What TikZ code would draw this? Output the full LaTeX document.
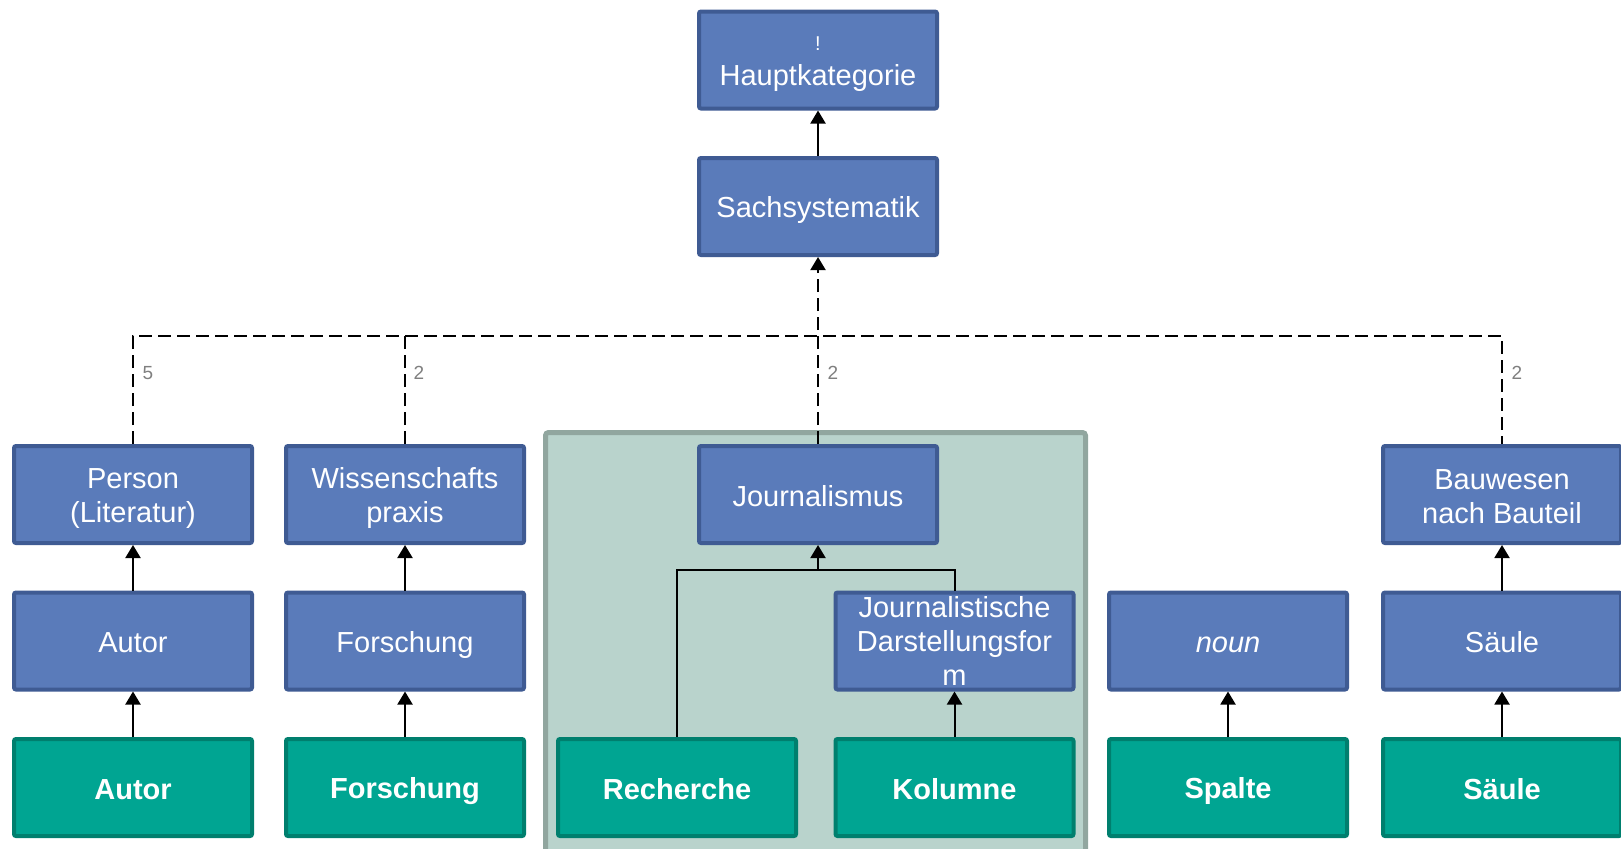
\documentclass[tikz,border=0pt]{standalone}
\usepackage{fontspec}
\setmainfont{Liberation Sans}
\usetikzlibrary{arrows.meta}
\definecolor{bfill}{HTML}{5A7BBA}
\definecolor{bdraw}{HTML}{3F5B93}
\definecolor{gfill}{HTML}{00A592}
\definecolor{gdraw}{HTML}{007F6E}
\definecolor{cfill}{HTML}{B9D3CC}
\definecolor{cdraw}{HTML}{91A69F}
\definecolor{lblgray}{HTML}{7F7F7F}
\newcommand\ls{\rule[-2.7pt]{0pt}{17pt}}
\begin{document}
\begin{tikzpicture}[x=0.5pt,y=-0.5pt,
  box/.style={rectangle, rounded corners=1pt, line width=2pt, minimum width=119pt,
    minimum height=48.5pt, inner sep=0pt, align=center, text=white,
    font=\fontsize{14.5}{17}\selectfont},
  bluebox/.style={box, fill=bfill, draw=bdraw},
  greenbox/.style={box, fill=gfill, draw=gdraw, font=\fontsize{14.5}{17}\selectfont\bfseries},
  conn/.style={line width=1pt, draw=black},
  arr/.style={conn, -{Triangle[width=7.5pt,length=6.5pt]}},
  dashline/.style={conn, dash pattern=on 6.5pt off 3pt},
  cnt/.style={text=lblgray, font=\fontsize{9.5}{11}\selectfont, inner sep=0pt},
  grp/.style={rectangle, fill=cfill, draw=cdraw, line width=2.5pt, rounded corners=1.5pt,
    minimum width=270pt, minimum height=218.75pt, inner sep=0pt}]

\useasboundingbox (0,0) rectangle (1621,848);

\node[grp] (grp) at (815.5,651.25) {};

% top
\node[bluebox, text height=25pt, text depth=0pt] (haupt) at (818,60)
  {{\fontsize{10}{12}\selectfont !}\\[0.5pt]Hauptkategorie};
\node[bluebox] (sachs) at (818,206.5) {\ls Sachsystematik};

% row 1
\node[bluebox] (person) at (133,494.5) {\ls Person\\\ls (Literatur)};
\node[bluebox] (wiss) at (405,494.5) {\ls Wissenschafts\\\ls praxis};
\node[bluebox] (jour) at (818,494.5) {\ls Journalismus};
\node[bluebox] (bau) at (1502,494.5) {\ls Bauwesen\\\ls nach Bauteil};

% row 2
\node[bluebox] (autorB) at (133,641) {\ls Autor};
\node[bluebox] (forschB) at (405,641) {\ls Forschung};
\node[bluebox, text height=44.7pt, text depth=0pt] (jds) at (954.5,641)
  {Journalistische\\Darstellungsfor\\m};
\node[bluebox] (noun) at (1228,641) {\ls\textit{noun}};
\node[bluebox] (saeuleB) at (1502,641) {\ls Säule};

% row 3
\node[greenbox] (autorG) at (133,787.5) {\ls Autor};
\node[greenbox] (forschG) at (405,787.5) {\ls Forschung};
\node[greenbox] (rech) at (677,787.5) {\ls Recherche};
\node[greenbox] (kol) at (954.5,787.5) {\ls Kolumne};
\node[greenbox] (spalte) at (1228,787.5) {\ls Spalte};
\node[greenbox] (saeuleG) at (1502,787.5) {\ls Säule};

% connectors
\draw[arr] (sachs) -- (haupt);

\coordinate (bus) at (818,336);
\draw[dashline] (person.north) |- (bau.north |- bus) -- (bau.north);
\draw[dashline] (wiss.north) -- (wiss.north |- bus);
\draw[dashline, -{Triangle[width=7.5pt,length=6.5pt]}] (jour.north) -- (sachs.south);

\node[cnt] (c1) at (148,373) {5};
\node[cnt] (c2) at (419,373) {2};
\node[cnt] (c3) at (833,373) {2};
\node[cnt] (c4) at (1517,373) {2};

\draw[arr] (autorB) -- (person);
\draw[arr] (autorG) -- (autorB);
\draw[arr] (forschB) -- (wiss);
\draw[arr] (forschG) -- (forschB);
\draw[arr] (saeuleB) -- (bau);
\draw[arr] (saeuleG) -- (saeuleB);
\draw[arr] (spalte) -- (noun);
\draw[arr] (kol) -- (jds);

\coordinate (jj) at (818,570);
\draw[conn] (rech.north) |- (jj);
\draw[conn] (jds.north) |- (jj);
\draw[arr] (jj) -- (jour.south);
\end{tikzpicture}
\end{document}
